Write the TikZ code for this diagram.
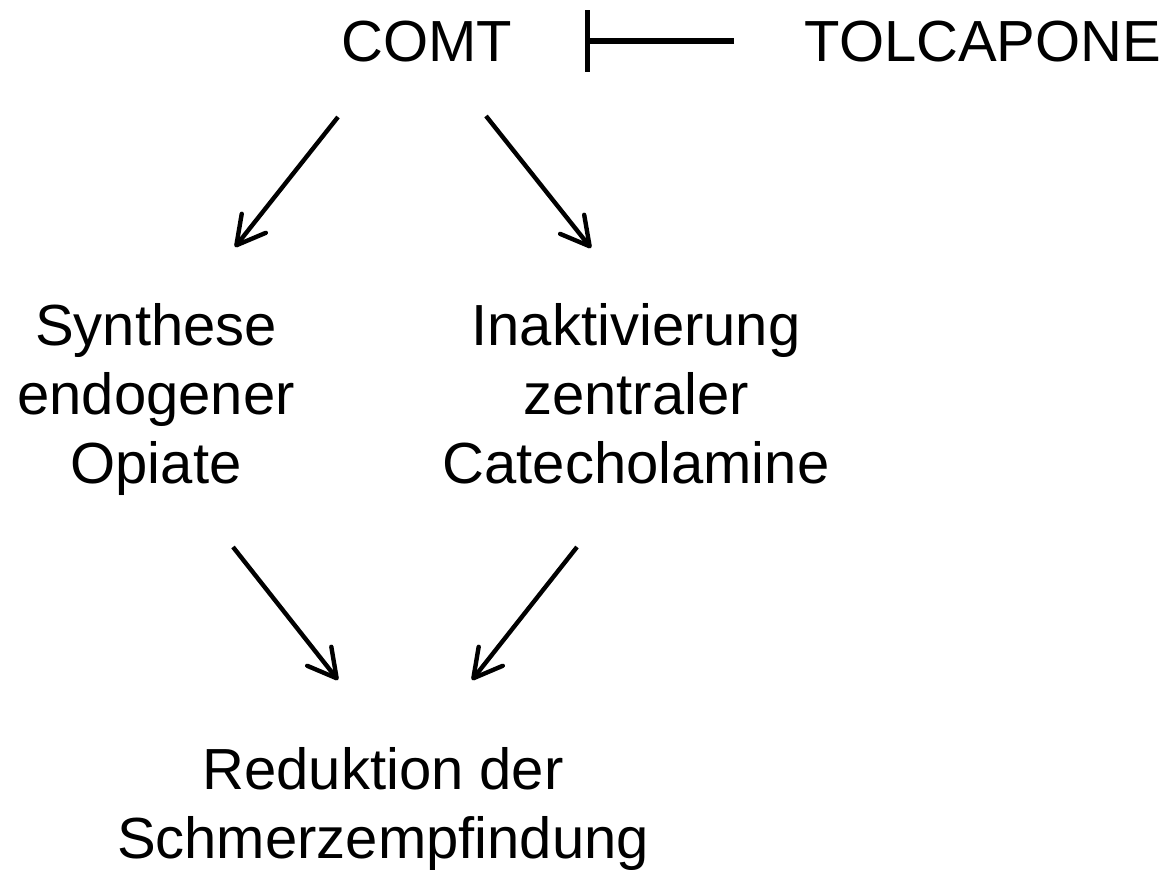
\documentclass[tikz,border=0pt]{standalone}
\usepackage{fontspec}
\setmainfont{Liberation Sans}
\usetikzlibrary{arrows.meta}
\begin{document}
\begin{tikzpicture}[x=0.75pt,y=-0.75pt,
  lbl/.style={inner sep=0pt, align=center, anchor=base, font=\fontsize{43.5}{51.75}\selectfont},
  act/.style={line width=3.3pt, -{Straight Barb[length=21pt,width=23pt,round]}},
  inhib/.style={line width=4pt, -{Bar[width=46pt]}}]
\useasboundingbox (0,0) rectangle (1168,870);
\node[lbl] (comt) at (427,62) {COMT};
\node[lbl] (tol) at (983,62) {TOLCAPONE};
\node[lbl] (syn) at (156,483) {Synthese\\endogener\\Opiate};
\node[lbl] (ina) at (636,483) {Inaktivierung\\zentraler\\Catecholamine};
\node[lbl] (red) at (383,858) {Reduktion der\\Schmerzempfindung};
\coordinate (tolL) at (734,41);
\coordinate (comtR) at (585,41);
\coordinate (c1s) at (338,117);
\coordinate (c1e) at (235,247);
\coordinate (c2s) at (486,116);
\coordinate (c2e) at (591,248);
\coordinate (s1s) at (233,547);
\coordinate (s1e) at (338,680);
\coordinate (i1s) at (577,547);
\coordinate (i1e) at (472,680);
\draw[inhib] (tolL) -- (comtR);
\draw[act] (c1s) -- (c1e);
\draw[act] (c2s) -- (c2e);
\draw[act] (s1s) -- (s1e);
\draw[act] (i1s) -- (i1e);
\end{tikzpicture}
\end{document}
